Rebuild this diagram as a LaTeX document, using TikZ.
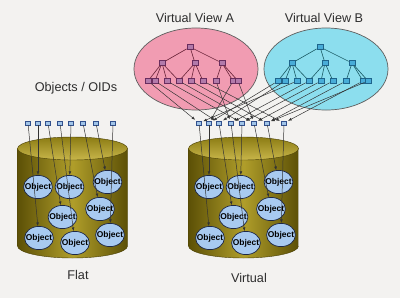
\documentclass[tikz,border=0pt]{standalone}
\usepackage{fontspec}
\setmainfont{Liberation Sans}
\usetikzlibrary{arrows.meta,shapes.geometric}

\definecolor{bgcol}{RGB}{243,242,240}
\definecolor{txtcol}{RGB}{45,45,45}
\definecolor{pinkfill}{RGB}{241,156,178}
\definecolor{cyanfill}{RGB}{140,222,238}
\definecolor{viewline}{RGB}{95,95,95}
\definecolor{anodefill}{RGB}{178,122,170}
\definecolor{anodeline}{RGB}{105,45,95}
\definecolor{alinecol}{RGB}{110,40,60}
\definecolor{bnodefill}{RGB}{72,172,216}
\definecolor{bnodeline}{RGB}{30,100,140}
\definecolor{blinecol}{RGB}{30,95,105}
\definecolor{oidfill}{RGB}{160,196,232}
\definecolor{oidline}{RGB}{50,80,140}
\definecolor{objfill}{RGB}{168,202,240}
\definecolor{objline}{RGB}{30,40,70}
\definecolor{drumdark}{RGB}{92,80,6}
\definecolor{drumlight}{RGB}{176,158,42}
\definecolor{drumtopdark}{RGB}{140,124,20}
\definecolor{drumtoplight}{RGB}{200,182,74}

\begin{document}
\begin{tikzpicture}[x=0.025cm,y=-0.025cm,
  label/.style={text=txtcol,font=\fontsize{9}{10}\selectfont},
  oid/.style={draw=oidline,fill=oidfill,line width=0.4pt,minimum width=3.6pt,minimum height=2.8pt,inner sep=0pt},
  obj/.style={ellipse,draw=objline,fill=objfill,line width=0.5pt,minimum width=20.5pt,minimum height=16.5pt,inner sep=0pt,font=\fontsize{6}{6}\selectfont\bfseries},
  tnode/.style={draw=#1line,fill=#1fill,line width=0.4pt,minimum width=4.4pt,minimum height=3.2pt,inner sep=0pt},
  view/.style={ellipse,draw=viewline,fill=#1,line width=0.5pt,minimum width=3.1cm,minimum height=2.05cm},
  ref/.style={-{Latex[length=2.6pt,width=2pt]},line width=0.35pt,draw=black!80},
  tedge/.style={line width=0.45pt,draw=#1}]
  % Background
  \fill[bgcol] (0,0) rectangle (400,298);
  % Drums with OIDs and objects
  \foreach \cx/\p in {72.5/f,243.5/v} {
    \shade[left color=drumdark,right color=drumdark,middle color=drumlight,draw=drumdark!80!black,line width=0.3pt]
      (\cx-55,148.5) -- (\cx-55,246) arc[start angle=180,end angle=0,x radius=55,y radius=12] -- (\cx+55,148.5) -- cycle;
    \shade[top color=drumtopdark,bottom color=drumtoplight,draw=drumdark!80!black,line width=0.3pt]
      (\cx,148.5) ellipse[x radius=55,y radius=11.5];
    \foreach \dx [count=\i] in {-44.5,-34.5,-24.5,-12.5,-1.5,10.5,23.5,40.5}
      \node[oid] (\p-s\i) at (\cx+\dx,123) {};
    \foreach \dx/\dy [count=\i] in {-34.5/187,-3/187,35/182,-10/217,27.5/209,-33.5/238,2.5/243,37.5/235}
      \node[obj] (\p-o\i) at (\cx+\dx,\dy) {\makebox[0pt]{Object}};
    \foreach \a/\b in {1/6,2/1,3/4,4/7,5/2,6/5,7/3,8/8}
      \draw[ref] (\p-s\a) -- (\p-o\b);
  }
  % Virtual views
  \node[view=pinkfill] (A) at (196,69) {};
  \node[view=cyanfill] (B) at (326,69) {};
  \foreach \cx/\p/\c in {190/a/anode,320/b/bnode} {
    \node[tnode=\c] (\p-r) at (\cx,47) {};
    \foreach \dx [count=\i] in {-28,5,32}
      \node[tnode=\c] (\p-m\i) at (\cx+\dx,63) {};
    \foreach \dx [count=\i] in {-42,-35,-23,-11,1,13,26,43,48}
      \node[tnode=\c] (\p-l\i) at (\cx+\dx,81) {};
  }
  \foreach \p/\c in {a/alinecol,b/blinecol} {
    \foreach \m in {1,2,3}
      \draw[tedge=\c] (\p-r) -- (\p-m\m);
    \foreach \m/\l in {1/1,1/2,1/3,1/4,2/4,2/5,2/6,3/7,3/8,3/9}
      \draw[tedge=\c] (\p-m\m) -- (\p-l\l);
  }
  % View references
  \foreach \l/\s in {1/1,2/3,3/5,4/6,5/7,6/8,7/4,8/2,9/6}
    \draw[ref,shorten >=1pt] (a-l\l) -- (v-s\s);
  \foreach \l/\s in {1/2,2/3,3/1,4/4,5/5,6/6,7/7,8/8,9/7}
    \draw[ref,shorten >=1pt] (b-l\l) -- (v-s\s);
  % Labels
  \node[label] (tA) at (195,18) {Virtual View A};
  \node[label] (tB) at (324,18) {Virtual View B};
  \node[label] (toid) at (76,88) {Objects / OIDs};
  \node[label] (tflat) at (78,275) {Flat};
  \node[label] (tvirt) at (249,278) {Virtual};
\end{tikzpicture}
\end{document}
